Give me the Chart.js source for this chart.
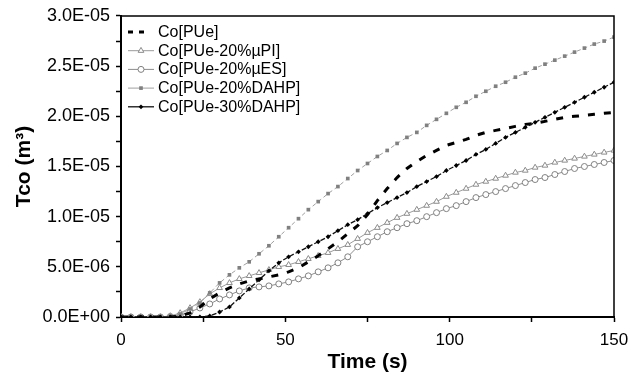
<!DOCTYPE html>
<html>
<head>
<meta charset="utf-8">
<script src="https://cdn.jsdelivr.net/npm/chart.js@4.4.1/dist/chart.umd.min.js"></script>
<style>
  html, body { margin: 0; padding: 0; background: #fff; }
  #wrap { width: 631px; height: 375px; }
</style>
</head>
<body>
<div id="wrap"><canvas id="c" width="631" height="375"></canvas></div>
<script>
// Time (s)
const time = [0,3,6,9,12,15,18,21,24,27,30,33,36,39,42,45,48,51,54,57,60,63,66,69,72,75,78,81,84,87,90,93,96,99,102,105,108,111,114,117,120,123,126,129,132,135,138,141,144,147,150];
// Tco values in units of 1E-06 m3
const UNIT = 1e-6;
const coPUe = [0,0,0,0,0,0,0.1,0.4,1.0,1.8,2.4,2.9,3.3,3.6,3.8,4.0,4.2,4.5,4.9,5.5,6.1,6.8,7.5,8.3,9.1,10.2,11.6,12.8,13.9,14.8,15.5,16.1,16.6,17.1,17.4,17.7,18.1,18.4,18.6,18.8,19.0,19.2,19.3,19.5,19.7,19.9,20.0,20.1,20.2,20.3,20.4];
const coPI20 = [0,0,0,0,0,0.1,0.4,0.9,1.5,2.3,2.9,3.4,3.8,4.1,4.4,4.7,5.0,5.2,5.5,5.8,6.1,6.4,6.8,7.2,7.8,8.4,8.9,9.4,9.9,10.3,10.7,11.1,11.5,12.0,12.4,12.8,13.2,13.5,13.8,14.1,14.4,14.6,14.9,15.1,15.4,15.6,15.8,16.0,16.2,16.4,16.6];
const coES20 = [0,0,0,0,0,0.05,0.2,0.5,0.9,1.3,1.8,2.2,2.6,2.9,3.0,3.1,3.3,3.5,3.8,4.1,4.5,4.9,5.4,6.0,7.0,7.5,8.0,8.5,8.9,9.3,9.6,10.0,10.4,10.8,11.1,11.5,11.9,12.2,12.5,12.8,13.1,13.4,13.7,13.9,14.2,14.5,14.8,15.0,15.2,15.4,15.6];
const coDAHP20 = [0,0,0,0,0,0.1,0.3,0.8,1.4,2.4,3.4,4.2,4.9,5.5,6.3,7.1,8.0,8.9,9.8,10.7,11.5,12.3,13.0,13.8,14.6,15.3,16.0,16.6,17.3,17.9,18.4,19.1,19.7,20.3,20.9,21.4,22.0,22.5,23.0,23.4,23.9,24.3,24.8,25.2,25.6,26.0,26.4,26.8,27.2,27.5,27.9];
const coDAHP30 = [0,0,0,0,0,0,0,0,0,0.1,0.5,1.0,1.9,2.8,3.7,4.6,5.4,6.0,6.5,7.0,7.5,8.0,8.6,9.2,9.7,10.3,10.9,11.4,11.9,12.4,13.0,13.5,14.0,14.6,15.1,15.6,16.2,16.7,17.3,17.9,18.4,18.9,19.4,19.9,20.4,20.9,21.4,21.9,22.4,22.9,23.4];
const seriesNames = ['Co[PUe]','Co[PUe-20%\u00b5PI]','Co[PUe-20%\u00b5ES]','Co[PUe-20%DAHP]','Co[PUe-30%DAHP]'];
const xTicks = [0,50,100,150];
const yMax = 3.0e-5;

const FONT = "'Liberation Sans', Arial, sans-serif";
const pts = arr => time.map((t,i) => ({x: t, y: arr[i]*UNIT}));

function fmtE(v) {
  const s = v.toExponential(1).toUpperCase();
  const [m, e] = s.split('E');
  const sign = e[0] === '-' ? '-' : '+';
  const digits = e.replace(/[+-]/, '').padStart(2, '0');
  return m + 'E' + sign + digits;
}

const datasets = [
  { label: seriesNames[0], data: pts(coPUe), borderColor: '#000', borderWidth: 3, borderDash: [7,9],
    pointRadius: 0, order: 2 },
  { label: seriesNames[1], data: pts(coPI20), borderColor: '#9a9a9a', borderWidth: 1,
    pointStyle: 'triangle', pointRadius: 3.3, pointBackgroundColor: '#fff', pointBorderColor: '#8c8c8c', pointBorderWidth: 1, order: 4 },
  { label: seriesNames[2], data: pts(coES20), borderColor: '#8c8c8c', borderWidth: 1,
    pointStyle: 'circle', pointRadius: 3, pointBackgroundColor: '#fff', pointBorderColor: '#808080', pointBorderWidth: 1, order: 5 },
  { label: seriesNames[3], data: pts(coDAHP20), borderColor: '#a0a0a0', borderWidth: 1, borderDash: [4,3],
    pointStyle: 'rect', pointRadius: 2.6, pointBackgroundColor: '#808080', pointBorderColor: '#808080', pointBorderWidth: 0, order: 3 },
  { label: seriesNames[4], data: pts(coDAHP30), borderColor: '#111', borderWidth: 1.3, borderDash: [5,2],
    pointStyle: 'rectRot', pointRadius: 2.4, pointBackgroundColor: '#000', pointBorderColor: '#000', pointBorderWidth: 0, order: 1 }
];

const framePlugin = {
  id: 'frame',
  afterDatasetsDraw(chart) {
    const {ctx, chartArea: a} = chart;
    ctx.save();
    ctx.strokeStyle = '#000';
    ctx.lineWidth = 1.5;
    ctx.beginPath();
    ctx.moveTo(a.left, a.top); ctx.lineTo(a.right, a.top); ctx.lineTo(a.right, a.bottom);
    ctx.stroke();
    ctx.restore();
  }
};

const legendPlugin = {
  id: 'customLegend',
  afterDatasetsDraw(chart) {
    const ctx = chart.ctx;
    const x0 = 128, x1 = 154, tx = 158, y0 = 32, dy = 18.7;
    ctx.save();
    chart.data.datasets.forEach((ds, i) => {
      const y = y0 + i * dy;
      ctx.save();
      ctx.strokeStyle = ds.borderColor;
      ctx.lineWidth = ds.borderWidth;
      if (i === 0) {
        ctx.lineWidth = 3;
        ctx.beginPath();
        ctx.moveTo(128, y); ctx.lineTo(133, y);
        ctx.moveTo(139, y); ctx.lineTo(144, y);
        ctx.stroke();
      } else {
        ctx.setLineDash([]);
        ctx.beginPath(); ctx.moveTo(x0, y); ctx.lineTo(x1, y); ctx.stroke();
        ctx.fillStyle = ds.pointBackgroundColor;
        ctx.strokeStyle = ds.pointBorderColor;
        ctx.lineWidth = ds.pointBorderWidth || 0.0001;
        Chart.helpers.drawPoint(ctx, {pointStyle: ds.pointStyle, radius: ds.pointRadius, rotation: 0, borderWidth: ds.pointBorderWidth}, 141, y);
      }
      ctx.restore();
      ctx.fillStyle = '#000';
      ctx.font = '16px ' + FONT;
      ctx.textBaseline = 'middle';
      ctx.textAlign = 'left';
      ctx.fillText(ds.label, tx, y + 0.5);
    });
    ctx.restore();
  }
};

new Chart(document.getElementById('c'), {
  type: 'line',
  data: { datasets },
  options: {
    responsive: false,
    animation: false,
    devicePixelRatio: 1,
    layout: { padding: { top: 16, right: 17, left: 0, bottom: 0 } },
    plugins: { legend: { display: false }, tooltip: { enabled: false } },
    elements: { line: { tension: 0, fill: false } },
    scales: {
      x: {
        type: 'linear', min: 0, max: 150,
        afterBuildTicks(scale) { scale.ticks = [0,25,50,75,100,125,150].map(v => ({value: v})); },
        afterFit(scale) { scale.height = 58; scale.paddingLeft = 0; scale.paddingRight = 0; },
        ticks: {
          color: '#000', font: { size: 17, family: FONT }, padding: 8, maxRotation: 0, autoSkip: false,
          callback: v => xTicks.includes(v) ? String(v) : ''
        },
        grid: { drawOnChartArea: false, drawTicks: true, tickLength: 5, color: '#000', tickWidth: 1.5 },
        border: { display: true, color: '#000', width: 2 },
        title: { display: true, text: 'Time (s)', color: '#000', font: { size: 21, weight: 'bold', family: FONT }, padding: { top: 0, bottom: 0 } }
      },
      y: {
        type: 'linear', min: 0, max: yMax,
        afterBuildTicks(scale) {
          const t = [];
          for (let k = 0; k <= 12; k++) t.push({ value: k * 2.5e-6 });
          scale.ticks = t;
        },
        afterFit(scale) { scale.width = 121; scale.paddingTop = 0; scale.paddingBottom = 0; },
        ticks: {
          color: '#000', font: { size: 18, family: FONT }, padding: 6, autoSkip: false,
          callback: (v, i) => (i % 2 === 0) ? fmtE(v) : ''
        },
        grid: { drawOnChartArea: false, drawTicks: true, tickLength: 5, color: '#000', tickWidth: 1.5 },
        border: { display: true, color: '#000', width: 2 },
        title: { display: true, text: 'Tco (m\u00b3)', color: '#000', font: { size: 21, weight: 'bold', family: FONT }, padding: { top: 12, bottom: 0 } }
      }
    }
  },
  plugins: [framePlugin, legendPlugin]
});
</script>
</body>
</html>
